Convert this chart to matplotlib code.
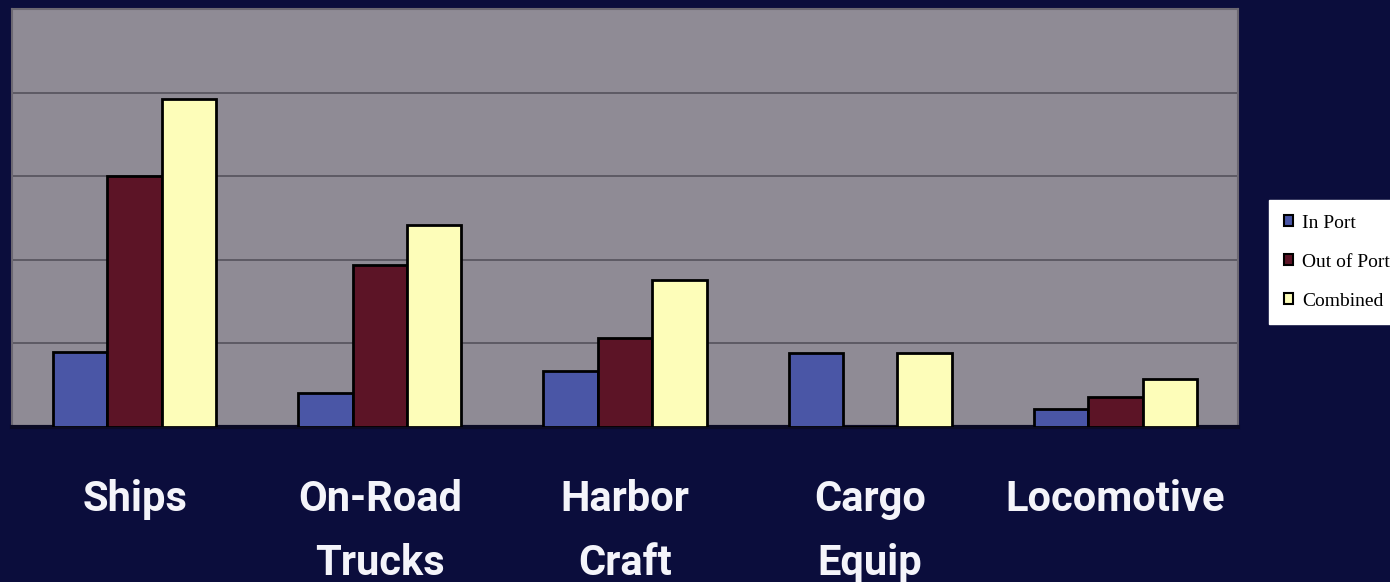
import matplotlib
matplotlib.use("Agg")
import matplotlib.pyplot as plt
import matplotlib.transforms as mtransforms
import numpy as np
from matplotlib.patches import Patch

categories = ["Ships", "On-Road\nTrucks", "Harbor\nCraft", "Cargo\nEquip", "Locomotive"]
series_names = ["In Port", "Out of Port", "Combined"]
in_port = [0.90, 0.41, 0.67, 0.89, 0.22]
out_of_port = [3.00, 1.94, 1.07, 0.0, 0.36]
combined = [3.92, 2.42, 1.76, 0.89, 0.57]
series = [in_port, out_of_port, combined]
colors = ["#4a56a6", "#5c1426", "#fdfdb9"]

W, H = 1390, 582
fig = plt.figure(figsize=(W/100, H/100), dpi=100)
fig.patch.set_facecolor("#0b0d3c")
ax = fig.add_axes([12/W, 1-427/H, (1238-12)/W, (427-9)/H])
ax.set_facecolor("#8f8b95")

x = np.arange(len(categories))
w = 0.222
for i, (vals, c) in enumerate(zip(series, colors)):
    ax.bar(x + (i-1)*w, vals, width=w, color=c, edgecolor="black", linewidth=2, zorder=3)

ax.set_xlim(-0.5, len(categories)-0.5)
ax.set_ylim(0, 5)
ax.set_yticks([1, 2, 3, 4])
ax.yaxis.grid(True, color="#55525c", linewidth=1.2, zorder=0)
ax.tick_params(left=False, labelleft=False, bottom=False, labelbottom=False)
for s in ["left", "top", "right"]:
    ax.spines[s].set_color("#6c6872")
    ax.spines[s].set_linewidth(1.5)
ax.spines["bottom"].set_color("#0a0a25")
ax.spines["bottom"].set_linewidth(3)

trans = mtransforms.blended_transform_factory(ax.transData, fig.transFigure)
baselines = [511, 575]
for xi, lab in zip(x, categories):
    for li, line in enumerate(lab.split("\n")):
        ax.text(xi, 1 - baselines[li]/H, line, ha="center", va="baseline", color="#f4f4fa",
                fontsize=30, fontweight="bold", family="Roboto",
                transform=trans, clip_on=False)

handles = [Patch(facecolor=c, edgecolor="black", linewidth=1.5) for c in colors]
leg = fig.legend(handles, series_names, loc="upper left",
                 bbox_to_anchor=(1269/W, 1-200/H), frameon=True, fancybox=False,
                 handlelength=0.5, handleheight=0.5, handletextpad=0.45,
                 labelspacing=1.13, borderpad=0.75, borderaxespad=0,
                 prop={"family": "Liberation Serif", "size": 14})
leg.get_frame().set_facecolor("white")
leg.get_frame().set_edgecolor("white")
leg.get_frame().set_alpha(1)

fig.savefig("out.png", dpi=100, facecolor=fig.get_facecolor())
